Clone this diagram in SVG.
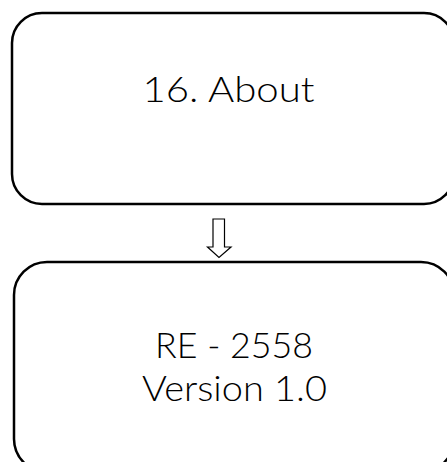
<svg xmlns="http://www.w3.org/2000/svg" width="447" height="462" viewBox="0 0 447 462">
<style>
.box{fill:#fff;stroke:#000;stroke-width:2.5}
.t{font-family:Lato,"Liberation Sans",Arial,sans-serif;font-weight:300;font-size:35px;fill:#000;text-anchor:middle}
.arr{fill:#fff;stroke:#000;stroke-width:1.2}
</style>
<rect width="447" height="462" fill="#fff"/>
<g id="node-about">
<rect class="box" x="12" y="13" width="442" height="191" rx="30" ry="30"/>
<text class="t" x="228.5" y="102" textLength="172" lengthAdjust="spacingAndGlyphs">16. About</text>
</g>
<g id="connectors">
<path class="arr" d="M213,219 H224.5 V247 H231 L219,257.5 L207.5,247 H213 Z"/>
</g>
<g id="node-version">
<rect class="box" x="14" y="262" width="440" height="210" rx="33" ry="33"/>
<text class="t" x="234" y="358" textLength="158" lengthAdjust="spacingAndGlyphs">RE - 2558</text>
<text class="t" x="234.5" y="401" textLength="185" lengthAdjust="spacingAndGlyphs">Version 1.0</text>
</g>
</svg>
